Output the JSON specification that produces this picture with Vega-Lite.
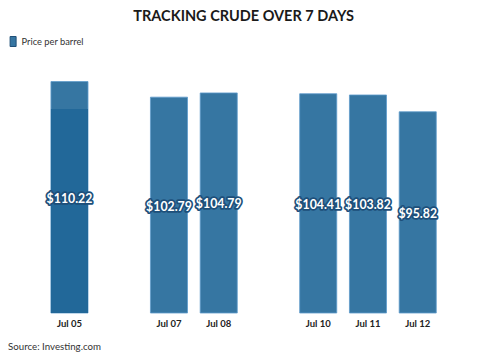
{
  "$schema": "https://vega.github.io/schema/vega-lite/v6.json",
  "autosize": "none",
  "width": 398,
  "height": 252,
  "padding": {"left": 44.6, "top": 61, "right": 43.4, "bottom": 47},
  "background": "white",
  "title": {
    "text": "TRACKING CRUDE OVER 7 DAYS",
    "font": "Lato",
    "fontSize": 14.5,
    "fontWeight": "bold",
    "color": "#1a1a1a",
    "anchor": "middle",
    "offset": 12
  },
  "data": {
    "values": [
      {"date": "Jul 05", "price": 110.22, "hover": 97.1},
      {"date": "Jul 07", "price": 102.79},
      {"date": "Jul 08", "price": 104.79},
      {"date": "Jul 10", "price": 104.41},
      {"date": "Jul 11", "price": 103.82},
      {"date": "Jul 12", "price": 95.82}
    ]
  },
  "encoding": {
    "x": {
      "field": "date",
      "type": "nominal",
      "scale": {
        "domain": ["Jul 05", "Jul 06", "Jul 07", "Jul 08", "Jul 09", "Jul 10", "Jul 11", "Jul 12"],
        "paddingInner": 0.255,
        "paddingOuter": 0.1275
      },
      "axis": {
        "labelExpr": "datum.value == 'Jul 06' || datum.value == 'Jul 09' ? '' : datum.value",
        "labelAngle": 0,
        "labelFont": "Lato",
        "labelFontSize": 9.5,
        "labelFontWeight": "bold",
        "labelColor": "#222",
        "labelPadding": 5,
        "ticks": false,
        "domain": false,
        "grid": false,
        "title": "Source: Investing.com",
        "titleFont": "Lato",
        "titleFontSize": 9.7,
        "titleFontWeight": "normal",
        "titleColor": "#333",
        "titleAlign": "left",
        "titleAnchor": "start",
        "titleBaseline": "middle",
        "titleX": -37,
        "titleY": 33
      }
    }
  },
  "layer": [
    {
      "mark": {"type": "bar", "stroke": "#5f9ccb", "strokeWidth": 0.8},
      "encoding": {
        "y": {"field": "price", "type": "quantitative", "scale": {"domain": [0, 120]}, "axis": null},
        "color": {
          "datum": "Price per barrel",
          "type": "nominal",
          "scale": {"range": ["#3676a2"]},
          "legend": {
            "title": null,
            "orient": "none",
            "legendX": -37,
            "legendY": -25,
            "symbolType": "M-0.6,-1H0.6V1H-0.6Z",
            "symbolSize": 100,
            "symbolStrokeColor": "#1f4f78",
            "symbolStrokeWidth": 1,
            "labelFont": "Lato",
            "labelFontSize": 9.3,
            "labelColor": "#333",
            "labelOffset": 3
          }
        }
      }
    },
    {
      "transform": [{"filter": "isValid(datum.hover)"}],
      "mark": {"type": "bar", "color": "#226899"},
      "encoding": {
        "y": {"field": "hover", "type": "quantitative", "scale": {"domain": [0, 120]}, "axis": null}
      }
    },
    {
      "mark": {"type": "text", "font": "Lato", "fontSize": 12.3, "fontWeight": "bold", "stroke": "#1d4f7a", "strokeWidth": 3.5, "strokeJoin": "round", "fill": "#1d4f7a", "baseline": "middle", "dy": 1.5},
      "encoding": {
        "y": {"field": "price", "type": "quantitative", "scale": {"domain": [0, 240]}, "axis": null},
        "text": {"field": "price", "type": "quantitative", "format": "$.2f"}
      }
    },
    {
      "mark": {"type": "text", "font": "Lato", "fontSize": 12.3, "fontWeight": "bold", "fill": "white", "baseline": "middle", "dy": 1.5},
      "encoding": {
        "y": {"field": "price", "type": "quantitative", "scale": {"domain": [0, 240]}, "axis": null},
        "text": {"field": "price", "type": "quantitative", "format": "$.2f"}
      }
    }
  ],
  "resolve": {"scale": {"y": "independent"}},
  "config": {"view": {"stroke": null}}
}
